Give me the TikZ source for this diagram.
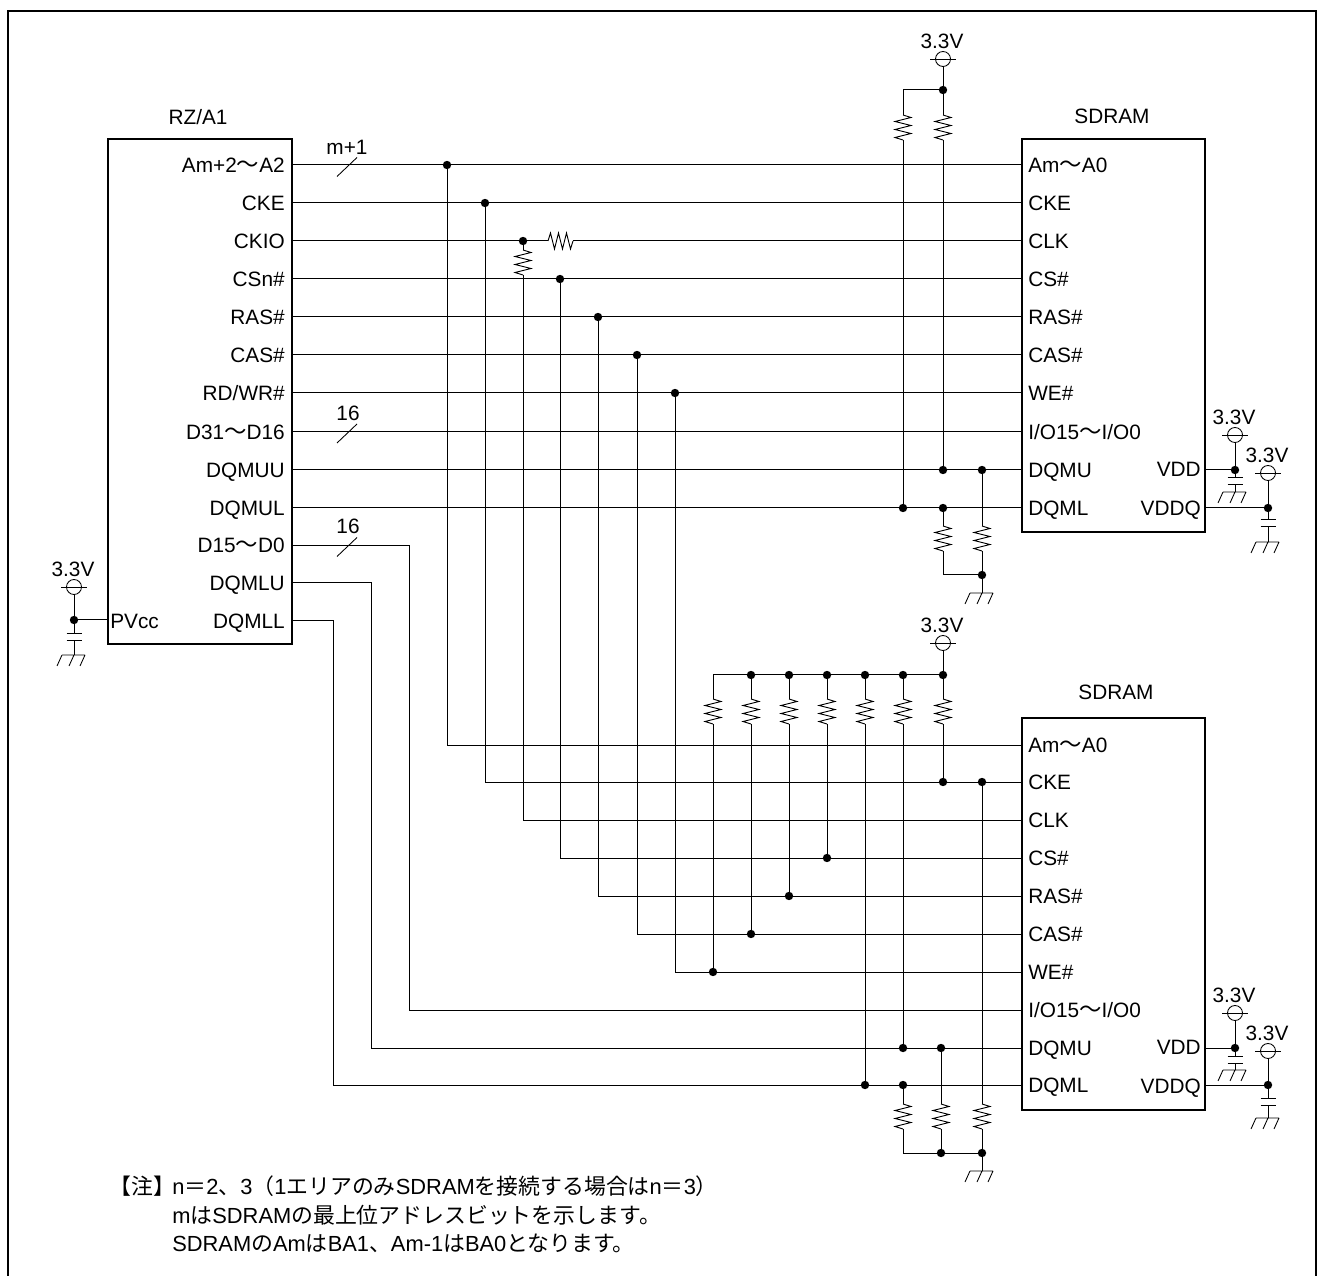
\documentclass[tikz,border=0pt]{standalone}
\usepackage{fontspec}
\setmainfont{Liberation Sans}
\newfontfamily\cjk{Noto Sans CJK JP}
\newcommand{\J}[1]{{\cjk #1}}
\newcommand{\Wv}{{\cjk\fontsize{16.8pt}{18pt}\selectfont ～}}
\tikzset{
  wire/.style={line width=0.75pt,black,line join=miter},
  chip/.style={draw,line width=1.8pt,rectangle,inner sep=0pt,anchor=north west},
  txt/.style={font=\fontsize{15.6pt}{18pt}\selectfont,inner sep=0pt,text=black},
  pinR/.style={txt,anchor=base east},
  pinL/.style={txt,anchor=base west},
  dot/.style={circle,fill=black,draw=none,inner sep=0pt,minimum size=6.3pt},
  note/.style={font=\fontsize{16.4pt}{18pt}\selectfont,inner sep=0pt,anchor=base west,text=black},
  resv/.pic={
    \coordinate (-t) at (0,0);
    \coordinate (-b) at (0,25);
    \draw[wire,line width=0.7pt] (0,0)--(8,2.5)--(-8,6.5)--(8,10.5)--(-8,14.5)--(8,18.5)--(-8,22.5)--(0,25);
  },
  resh/.pic={
    \coordinate (-l) at (0,0);
    \coordinate (-r) at (25,0);
    \draw[wire,line width=0.7pt] (0,0)--(2.5,-8)--(6.5,8)--(10.5,-8)--(14.5,8)--(18.5,-8)--(22.5,8)--(25,0);
  },
  supply/.pic={
    \coordinate (-b) at (0,8);
    \draw[wire,line width=0.65pt] (-13,0)--(13,0);
    \draw[wire,line width=0.65pt] (0,0) circle[radius=7.5];
    \node[txt] (-lbl) at (-1,-18) {3.3V};
  },
  ground/.pic={
    \coordinate (-t) at (0,0);
    \draw[wire,line width=0.65pt] (-12,0)--(11,0)
      (-12,0)--(-17,11) (0,0)--(-5,11) (11,0)--(6,11);
  },
  capv/.pic={
    \coordinate (-t) at (0,0);
    \coordinate (-b) at (0,7);
    \draw[wire] (-7.5,0)--(7.5,0) (-7.5,7)--(7.5,7);
  },
  bus/.pic={
    \draw[wire,line width=0.65pt] (-10,11)--(10,-8);
  }
}
\begin{document}
\begin{tikzpicture}[x=0.75pt,y=-0.75pt]
\useasboundingbox (0,0) rectangle (1318,1276);
% frame
\draw[line width=2.2pt] (8,1276) -- (8,11) -- (1316,11) -- (1316,1276);
% chips
\node[chip,minimum width=138pt,minimum height=378.75pt] (rz) at (107,138) {};
\node[chip,minimum width=137.25pt,minimum height=294.75pt] (s1) at (1021,138) {};
\node[chip,minimum width=137.25pt,minimum height=294pt] (s2) at (1021,717) {};
\node[txt] (rzt) at (198,117) {RZ/A1};
\node[txt] (s1t) at (1112,116) {SDRAM};
\node[txt] (s2t) at (1116,692) {SDRAM};
% pins
\foreach \n/\y/\t in {A/165/{Am+2\Wv A2},E/203/CKE,K/241/CKIO,C/279/{CSn\#},R/317/{RAS\#},S/355/{CAS\#},W/393/{RD/WR\#},H/432/{D31\Wv D16},U/470/DQMUU,L/508/DQMUL,D/545.5/{D15\Wv D0},Y/583/DQMLU,Z/621/DQMLL}{
  \coordinate (r\n) at (291,\y);
  \node[pinR] (rl\n) at (285,\y+7.5) {\t};
}
\foreach \n/\y/\t in {A/165/{Am\Wv A0},E/203/CKE,K/241/CLK,C/279/{CS\#},R/317/{RAS\#},S/355/{CAS\#},W/393/{WE\#},H/432/{I/O15\Wv I/O0},U/470/DQMU,L/508/DQML}{
  \coordinate (u\n) at (1021,\y);
  \node[pinL] (ul\n) at (1028,\y+7.5) {\t};
}
\foreach \n/\y/\t in {A/745/{Am\Wv A0},E/782/CKE,K/820/CLK,C/858/{CS\#},R/896/{RAS\#},S/934/{CAS\#},W/972/{WE\#},H/1010/{I/O15\Wv I/O0},U/1048/DQMU,L/1085/DQML}{
  \coordinate (v\n) at (1021,\y);
  \node[pinL] (vl\n) at (1028,\y+7.5) {\t};
}
\coordinate (rP) at (107,620);
\node[pinL] (rlP) at (110,628.5) {PVcc};
\coordinate (u1D) at (1204,470);
\coordinate (u1Q) at (1204,508);
\coordinate (v1D) at (1204,1048);
\coordinate (v1Q) at (1204,1085);
\node[pinR] (ulD) at (1201,477) {VDD};
\node[pinR] (ulQ) at (1201,515.5) {VDDQ};
\node[pinR] (vlD) at (1201,1054.5) {VDD};
\node[pinR] (vlQ) at (1201,1093) {VDDQ};
% junctions, first memory
\node[dot] (jA) at (447,165) {};
\node[dot] (jE) at (485,203) {};
\node[dot] (jK) at (523,241) {};
\node[dot] (jC) at (560,279) {};
\node[dot] (jR) at (598,317) {};
\node[dot] (jS) at (637,355) {};
\node[dot] (jW) at (675,393) {};
\node[dot] (a1) at (943,90) {};
\node[dot] (a2) at (943,470) {};
\node[dot] (a3) at (982,470) {};
\node[dot] (a4) at (903,508) {};
\node[dot] (a5) at (943,508) {};
\node[dot] (a6) at (982,575) {};
\coordinate (a7) at (903,90);
\coordinate (a8) at (943,575);
% junctions, second memory
\node[dot] (b1) at (943,675) {};
\node[dot] (b2) at (903,675) {};
\node[dot] (b3) at (865,675) {};
\node[dot] (b4) at (827,675) {};
\node[dot] (b5) at (789,675) {};
\node[dot] (b6) at (751,675) {};
\coordinate (b7) at (713,675);
\node[dot] (c1) at (943,782) {};
\node[dot] (c2) at (982,782) {};
\node[dot] (c3) at (827,858) {};
\node[dot] (c4) at (789,896) {};
\node[dot] (c5) at (751,934) {};
\node[dot] (c6) at (713,972) {};
\node[dot] (c7) at (903,1048) {};
\node[dot] (c8) at (941,1048) {};
\node[dot] (c9) at (865,1085) {};
\node[dot] (c10) at (903,1085) {};
\node[dot] (c11) at (941,1153) {};
\node[dot] (c12) at (982,1153) {};
\coordinate (c13) at (903,1153);
% power dots
\node[dot] (p1) at (1235,470) {};
\node[dot] (p2) at (1268,508) {};
\node[dot] (p3) at (1235,1048) {};
\node[dot] (p4) at (1268,1085) {};
\node[dot] (p5) at (74,620) {};
% bus bends
\coordinate (d1) at (409,545.5);
\coordinate (d2) at (371,583);
\coordinate (d3) at (333,621);
% resistors
\pic (R1) at (903,115) {resv};
\pic (R2) at (943,115) {resv};
\pic (R3) at (943,526) {resv};
\pic (R4) at (982,526) {resv};
\pic (R5) at (548,241) {resh};
\pic (R6) at (523,250) {resv};
\pic (Q1) at (713,699) {resv};
\pic (Q2) at (751,699) {resv};
\pic (Q3) at (789,699) {resv};
\pic (Q4) at (827,699) {resv};
\pic (Q5) at (865,699) {resv};
\pic (Q6) at (903,699) {resv};
\pic (Q7) at (943,699) {resv};
\pic (Q8) at (903,1104) {resv};
\pic (Q9) at (941,1104) {resv};
\pic (Q10) at (982,1104) {resv};
% supplies
\pic (V1) at (943,59) {supply};
\pic (V2) at (943,643) {supply};
\pic (V3) at (1235,435) {supply};
\pic (V4) at (1268,473) {supply};
\pic (V5) at (1235,1013) {supply};
\pic (V6) at (1268,1051) {supply};
\pic (V7) at (74,587) {supply};
% capacitors
\pic (C1) at (1235,478) {capv};
\pic (C2) at (1268,520) {capv};
\pic (C3) at (1235,1056) {capv};
\pic (C4) at (1268,1098) {capv};
\pic (C5) at (74,634) {capv};
% grounds
\pic (G1) at (982,593) {ground};
\pic (G2) at (1235,492) {ground};
\pic (G3) at (1268,542) {ground};
\pic (G4) at (982,1171) {ground};
\pic (G5) at (1235,1070) {ground};
\pic (G6) at (1268,1118) {ground};
\pic (G7) at (74,655) {ground};
% straight rows, first memory
\draw[wire] (rA)--(uA) (rE)--(uE) (rC)--(uC) (rR)--(uR) (rS)--(uS) (rW)--(uW) (rH)--(uH) (rU)--(uU) (rL)--(uL);
\draw[wire] (rK)--(R5-l) (R5-r)--(uK);
% drops to second memory
\draw[wire] (jA) |- (vA);
\draw[wire] (jE) |- (vE);
\draw[wire] (jK)--(R6-t) (R6-b) |- (vK);
\draw[wire] (jC) |- (vC);
\draw[wire] (jR) |- (vR);
\draw[wire] (jS) |- (vS);
\draw[wire] (jW) |- (vW);
\draw[wire] (rD)--(d1) |- (vH);
\draw[wire] (rY)--(d2) |- (vU);
\draw[wire] (rZ)--(d3) |- (vL);
% first memory pull-ups and pull-downs
\draw[wire] (V1-b)--(a1) (a1)--(R2-t) (R2-b)--(a2);
\draw[wire] (a1)--(a7)--(R1-t) (R1-b)--(a4);
\draw[wire] (a5)--(R3-t) (R3-b)--(a8)--(a6);
\draw[wire] (a3)--(R4-t) (R4-b)--(a6)--(G1-t);
% second memory pull-ups and pull-downs
\draw[wire] (V2-b)--(b1);
\draw[wire] (b1)--(b7);
\draw[wire] (b1)--(Q7-t) (Q7-b)--(c1);
\draw[wire] (b2)--(Q6-t) (Q6-b)--(c7);
\draw[wire] (b3)--(Q5-t) (Q5-b)--(c9);
\draw[wire] (b4)--(Q4-t) (Q4-b)--(c3);
\draw[wire] (b5)--(Q3-t) (Q3-b)--(c4);
\draw[wire] (b6)--(Q2-t) (Q2-b)--(c5);
\draw[wire] (b7)--(Q1-t) (Q1-b)--(c6);
\draw[wire] (c10)--(Q8-t) (Q8-b)--(c13)--(c12);
\draw[wire] (c8)--(Q9-t) (Q9-b)--(c11);
\draw[wire] (c2)--(Q10-t) (Q10-b)--(c12)--(G4-t);
% power rails
\draw[wire] (u1D)--(p1) (V3-b)--(p1)--(C1-t) (C1-b)--(G2-t);
\draw[wire] (u1Q)--(p2) (V4-b)--(p2)--(C2-t) (C2-b)--(G3-t);
\draw[wire] (v1D)--(p3) (V5-b)--(p3)--(C3-t) (C3-b)--(G5-t);
\draw[wire] (v1Q)--(p4) (V6-b)--(p4)--(C4-t) (C4-b)--(G6-t);
\draw[wire] (rP)--(p5) (V7-b)--(p5)--(C5-t) (C5-b)--(G7-t);
% bus marks
\pic at (347,165.5) {bus};
\pic at (347,432) {bus};
\pic at (347,545.5) {bus};
\node[txt] (n1) at (347,147) {m+1};
\node[txt] (n2) at (348,413) {16};
\node[txt] (n3) at (348,526) {16};
% note
\node[note] (t0) at (109,1194) {\J{【注】}};
\node[note] (t1) at (172,1194) {n\J{＝}2\J{、}3\J{（}1\J{エリアのみ}SDRAM\J{を接続する場合は}n\J{＝}3\J{）}};
\node[note] (t2) at (172,1223) {m\J{は}SDRAM\J{の最上位アドレスビットを示します。}};
\node[note] (t3) at (172,1251) {SDRAM\J{の}Am\J{は}BA1\J{、}Am-1\J{は}BA0\J{となります。}};
\end{tikzpicture}
\end{document}
